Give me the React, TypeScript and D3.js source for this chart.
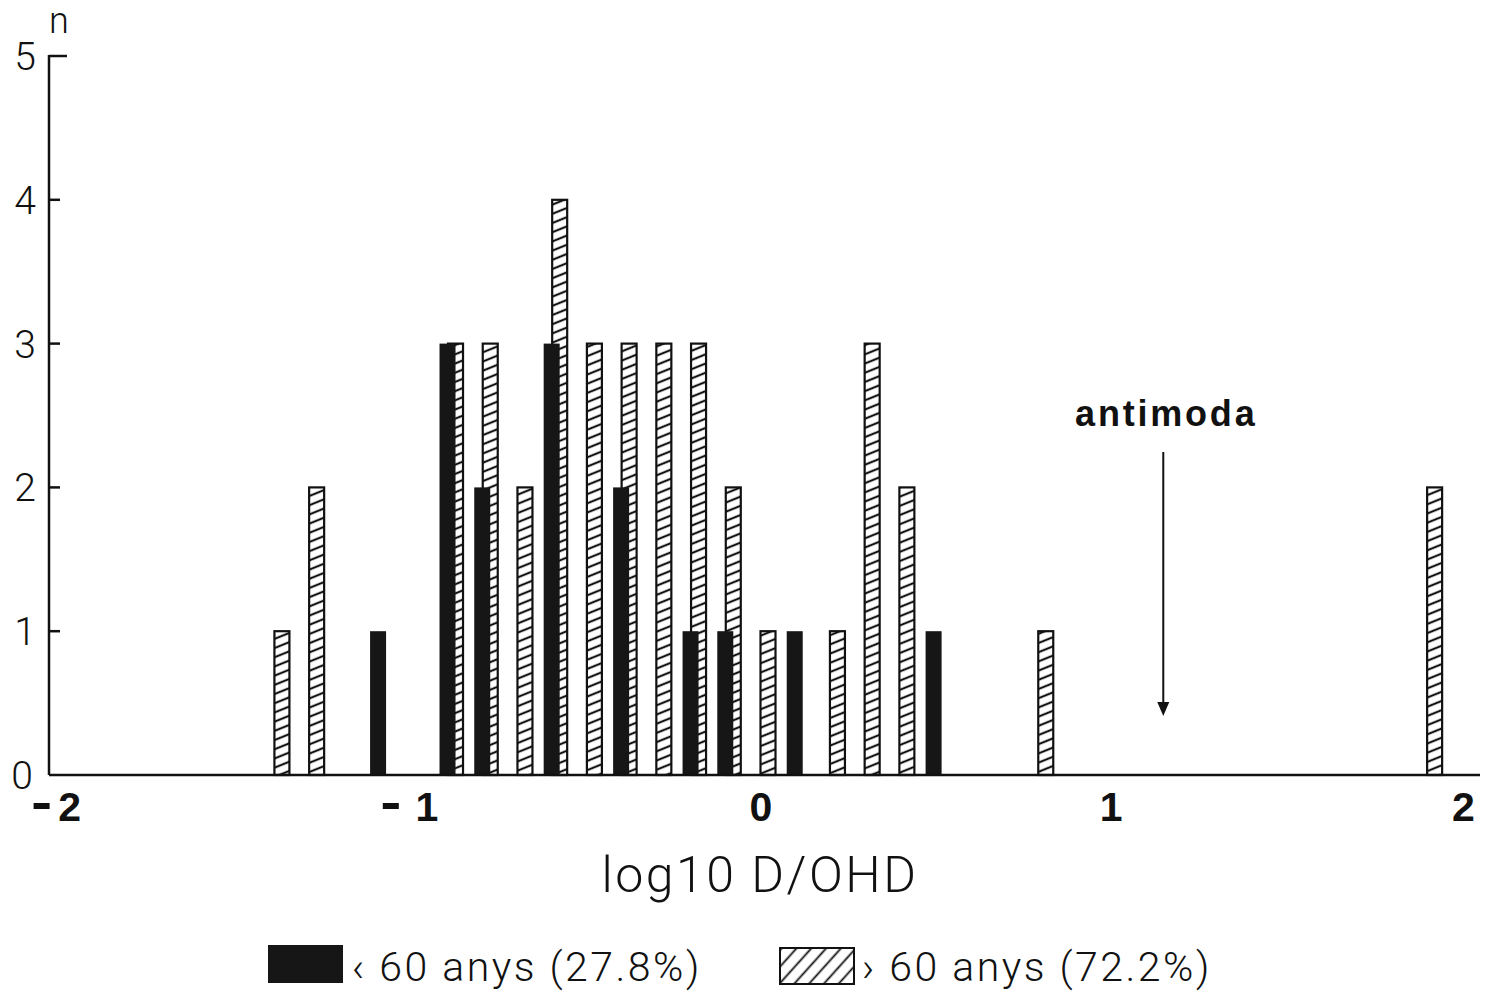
import React from "react";
import * as d3 from "d3";

// ---- data ----
const youngBins = [-1.1, -0.9, -0.8, -0.6, -0.4, -0.2, -0.1, 0.1, 0.5];
const youngCounts = [1, 3, 2, 3, 2, 1, 1, 1, 1];
const oldBins = [-1.4, -1.3, -0.9, -0.8, -0.7, -0.6, -0.5, -0.4, -0.3, -0.2, -0.1, 0.0, 0.2, 0.3, 0.4, 0.8, 1.92];
const oldCounts = [1, 2, 3, 3, 2, 4, 3, 3, 3, 3, 2, 1, 1, 3, 2, 1, 2];
const xTicks = [-2, -1, 0, 1, 2];
const yTicks = [0, 1, 2, 3, 4, 5];
const antimodaValue = 1.15;
const legendLabels = ["‹ 60 anys (27.8%)", "› 60 anys (72.2%)"];

const W = 1486;
const H = 1006;
const LIGHT = "Roboto, 'Liberation Sans', sans-serif";
const BOLD = "'Liberation Sans', Arial, sans-serif";

export default function App() {
  const x = d3.scaleLinear().domain([-2, 2]).range([69.6, 1458.4]);
  const y = d3.scaleLinear().domain([0, 5]).range([775, 56]);
  const axisX0 = 49;
  const axisX1 = 1480;
  const hw = 15; // hatched width
  const bw = 16; // black width
  const off = 4;
  const labelShift: Record<number, number> = { [-2]: 0, [-1]: 10, 0: -3, 1: 0, 2: 5 };
  const minusShift: Record<number, number> = { [-2]: -36, [-1]: -34 };

  return (
    <svg width={W} height={H} style={{ position: "absolute", left: 0, top: 0, background: "#fff" }}>
      <defs>
        <pattern id="hatch" patternUnits="userSpaceOnUse" width={60} height={9.2} patternTransform="skewY(-22)">
          <rect width={60} height={9.2} fill="#fff" />
          <line x1={0} x2={60} y1={4.6} y2={4.6} stroke="#111" strokeWidth={2.3} />
        </pattern>
        <pattern id="hatchLeg" patternUnits="userSpaceOnUse" width={11} height={11} patternTransform="rotate(-48)">
          <rect width={11} height={11} fill="#fff" />
          <line x1={0} x2={11} y1={5.5} y2={5.5} stroke="#111" strokeWidth={1.8} />
        </pattern>
      </defs>

      {/* hatched bars (>60) */}
      {oldBins.map((b, i) => (
        <rect
          key={"o" + i}
          x={x(b) + off - hw / 2}
          y={y(oldCounts[i])}
          width={hw}
          height={y(0) - y(oldCounts[i])}
          fill="url(#hatch)"
          stroke="#111"
          strokeWidth={2.2}
        />
      ))}
      {/* black bars (<60) */}
      {youngBins.map((b, i) => (
        <rect
          key={"y" + i}
          x={x(b) - off - bw / 2}
          y={y(youngCounts[i])}
          width={bw}
          height={y(0) - y(youngCounts[i])}
          fill="#161616"
        />
      ))}

      {/* axes */}
      <line x1={axisX0} x2={axisX1} y1={y(0)} y2={y(0)} stroke="#111" strokeWidth={2.5} />
      <line x1={axisX0} x2={axisX0} y1={y(0)} y2={y(5) - 1} stroke="#111" strokeWidth={2.5} />
      {yTicks.filter((t) => t > 0).map((t) => (
        <line key={"yt" + t} x1={axisX0} x2={axisX0 + (t === 5 ? 18 : 11)} y1={y(t)} y2={y(t)} stroke="#111" strokeWidth={2.5} />
      ))}
      {yTicks.map((t) => (
        <text
          key={"yl" + t}
          x={t === 0 ? 22 : 25}
          y={y(t)}
          dy="0.36em"
          textAnchor="middle"
          fontFamily={LIGHT}
          fontWeight={300}
          fontSize={39}
          fill="#111"
        >
          {t}
        </text>
      ))}
      <text x={59} y={33} textAnchor="middle" fontFamily={LIGHT} fontWeight={300} fontSize={36} fill="#111">
        n
      </text>

      {/* x tick labels */}
      {xTicks.map((t) => (
        <g key={"xl" + t}>
          <text x={x(t) + labelShift[t]} y={821} textAnchor="middle" fontFamily={BOLD} fontWeight={700} fontSize={41} fill="#111">
            {Math.abs(t)}
          </text>
          {t < 0 && (
            <rect x={x(t) + minusShift[t]} y={803} width={16} height={6} fill="#111" />
          )}
        </g>
      ))}

      {/* axis title */}
      <text x={760} y={892} textAnchor="middle" fontFamily={LIGHT} fontWeight={300} fontSize={50} letterSpacing={2.5} fill="#111">
        log10 D/OHD
      </text>

      {/* antimoda annotation */}
      <text x={x(antimodaValue) + 3} y={426} textAnchor="middle" fontFamily={BOLD} fontWeight={700} fontSize={36} letterSpacing={2.8} fill="#111">
        antimoda
      </text>
      <line x1={x(antimodaValue)} x2={x(antimodaValue)} y1={452} y2={704} stroke="#111" strokeWidth={2} />
      <path
        d={`M${x(antimodaValue) - 6},${702} L${x(antimodaValue) + 6},${702} L${x(antimodaValue)},${716} Z`}
        fill="#111"
      />

      {/* legend */}
      <rect x={268} y={945} width={75} height={38} fill="#161616" />
      <text x={352} y={981} fontFamily={LIGHT} fontWeight={300} fontSize={41} letterSpacing={2.5} fill="#111">
        {legendLabels[0]}
      </text>
      <rect x={780} y={948} width={74} height={36} fill="url(#hatchLeg)" stroke="#111" strokeWidth={2} />
      <text x={862} y={981} fontFamily={LIGHT} fontWeight={300} fontSize={41} letterSpacing={2.5} fill="#111">
        {legendLabels[1]}
      </text>
    </svg>
  );
}
